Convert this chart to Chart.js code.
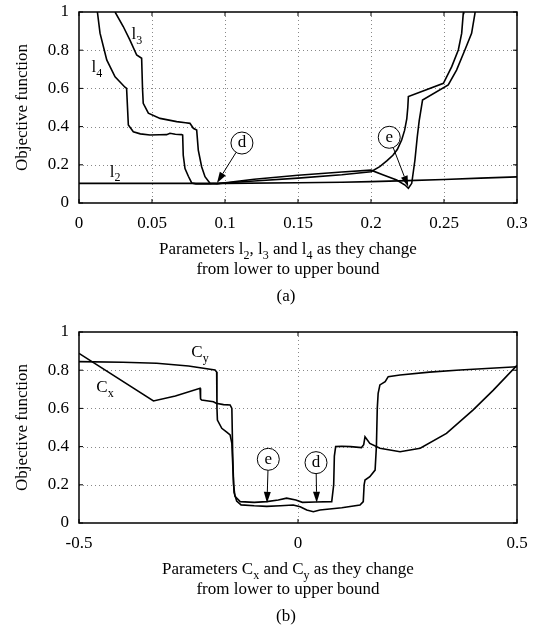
<!DOCTYPE html>
<html lang="en">
<head>
<meta charset="UTF-8">
<title>Objective function vs parameters</title>
<style>
    body, html {
        margin: 0;
        padding: 0;
        background: #fff;
    }
    canvas { display: block; }
</style>
</head>
<body>
<canvas id="chartA" width="538" height="320"></canvas>
<canvas id="chartB" width="538" height="320"></canvas>

<script src="https://cdn.jsdelivr.net/npm/chart.js"></script>
<script>
    // ---------- (a) parameters l2, l3, l4 ----------
    const xTicksA = [0, 0.05, 0.1, 0.15, 0.2, 0.25, 0.3];
    const xLabelsA = ['0', '0.05', '0.1', '0.15', '0.2', '0.25', '0.3'];
    const yTicks = [0, 0.2, 0.4, 0.6, 0.8, 1];
    const yLabels = ['0', '0.2', '0.4', '0.6', '0.8', '1'];

    const l2X = [0, 0.1, 0.15, 0.18, 0.2, 0.225, 0.25, 0.275, 0.3];
    const l2Y = [0.103, 0.103, 0.106, 0.109, 0.112, 0.117, 0.123, 0.13, 0.137];

    const l3X = [0.0247, 0.0303, 0.0349, 0.0395, 0.0429, 0.0435, 0.044, 0.0475, 0.0555, 0.0669, 0.073, 0.076,
                 0.0783, 0.0806, 0.0817, 0.084, 0.0863, 0.0897, 0.0945, 0.12, 0.15, 0.18, 0.2,
                 0.2085, 0.2176, 0.2233, 0.2256, 0.2279, 0.2301, 0.2317, 0.233, 0.2353,
                 0.2529, 0.2586, 0.2643, 0.2689, 0.2712, 0.2716];
    const l3Y = [1.0, 0.924, 0.853, 0.775, 0.758, 0.6, 0.522, 0.47, 0.443, 0.426, 0.42, 0.417,
                 0.391, 0.382, 0.277, 0.19, 0.138, 0.103, 0.1, 0.124, 0.145, 0.162, 0.172,
                 0.147, 0.12, 0.094, 0.077, 0.103, 0.225, 0.347, 0.43, 0.539,
                 0.618, 0.696, 0.801, 0.888, 0.993, 1.02];

    const l4X = [0.0126, 0.0144, 0.019, 0.0247, 0.0315, 0.0326, 0.0338, 0.0372, 0.042, 0.0486, 0.055, 0.06,
                 0.0623, 0.066, 0.0703, 0.071, 0.0714, 0.0726, 0.0749, 0.0772, 0.08, 0.09, 0.0945,
                 0.12, 0.15, 0.18, 0.2, 0.206, 0.211, 0.215, 0.218, 0.221, 0.223, 0.2245, 0.2252, 0.2256,
                 0.2496, 0.2553, 0.2598, 0.2621, 0.2632, 0.2635];
    const l4Y = [1.0, 0.889, 0.749, 0.661, 0.606, 0.6, 0.408, 0.373, 0.362, 0.356, 0.357, 0.358,
                 0.365, 0.36, 0.358, 0.356, 0.25, 0.18, 0.14, 0.105, 0.1, 0.1, 0.102,
                 0.115, 0.13, 0.148, 0.164, 0.19, 0.222, 0.25, 0.28, 0.33, 0.38, 0.44, 0.5, 0.557,
                 0.627, 0.714, 0.801, 0.888, 0.993, 1.02];

    // ---------- (b) parameters Cx, Cy ----------
    const xTicksB = [-0.5, 0, 0.5];
    const xLabelsB = ['-0.5', '0', '0.5'];

    const cxX = [-0.5, -0.33, -0.28, -0.2237, -0.2225, -0.22, -0.193, -0.187, -0.17, -0.155, -0.151, -0.149,
                 -0.147, -0.144, -0.132, -0.1, -0.0715, -0.045, -0.026, -0.005, 0.01, 0.04, 0.077,
                 0.0815, 0.083, 0.086, 0.1, 0.12, 0.145, 0.15, 0.153, 0.164, 0.187, 0.233, 0.279,
                 0.339, 0.4, 0.446, 0.5];
    const cxY = [0.888, 0.639, 0.665, 0.705, 0.65, 0.644, 0.635, 0.627, 0.62, 0.618, 0.6, 0.35,
                 0.2, 0.14, 0.112, 0.108, 0.112, 0.12, 0.13, 0.12, 0.108, 0.11, 0.112,
                 0.2, 0.35, 0.4, 0.402, 0.4, 0.395, 0.41, 0.452, 0.417, 0.391, 0.373, 0.391,
                 0.469, 0.592, 0.696, 0.825];

    const cyX = [-0.5, -0.4, -0.3226, -0.25, -0.1895, -0.1857, -0.185, -0.184, -0.174, -0.162, -0.155, -0.151,
                 -0.148, -0.146, -0.14, -0.13, -0.1, -0.0715, -0.04, -0.011, 0.005, 0.02, 0.035, 0.05,
                 0.1, 0.1416, 0.149, 0.151, 0.153, 0.164, 0.176, 0.179, 0.181, 0.183, 0.187, 0.199,
                 0.206, 0.233, 0.3, 0.37, 0.5];
    const cyY = [0.845, 0.842, 0.836, 0.822, 0.801, 0.79, 0.6, 0.539, 0.496, 0.475, 0.461, 0.417,
                 0.25, 0.16, 0.115, 0.095, 0.09, 0.087, 0.09, 0.094, 0.085, 0.068, 0.059, 0.068,
                 0.08, 0.094, 0.112, 0.2, 0.225, 0.242, 0.277, 0.4, 0.6, 0.679, 0.723, 0.74,
                 0.766, 0.775, 0.79, 0.801, 0.818];

    const serif = '"Liberation Serif", "DejaVu Serif", serif';

    function toPoints(xs, ys) {
        return xs.map((x, i) => ({ x: x, y: ys[i] }));
    }

    // draws text made of normal and subscript pieces, centred on x
    function drawRich(ctx, parts, x, y) {
        const big = '17px ' + serif, small = '12px ' + serif;
        let w = 0;
        parts.forEach(p => { ctx.font = p[1] ? small : big; w += ctx.measureText(p[0]).width; });
        let cx = x - w / 2;
        ctx.textAlign = 'left';
        ctx.textBaseline = 'middle';
        ctx.fillStyle = '#000';
        parts.forEach(p => {
            ctx.font = p[1] ? small : big;
            ctx.fillText(p[0], cx, p[1] ? y + 6 : y);
            cx += ctx.measureText(p[0]).width;
        });
    }

    function arrow(ctx, x1, y1, x2, y2) {
        const ang = Math.atan2(y2 - y1, x2 - x1), len = 11, half = 3.5;
        const bx = x2 - len * Math.cos(ang), by = y2 - len * Math.sin(ang);
        ctx.beginPath();
        ctx.moveTo(x1, y1);
        ctx.lineTo(bx, by);
        ctx.lineWidth = 1;
        ctx.stroke();
        ctx.beginPath();
        ctx.moveTo(x2, y2);
        ctx.lineTo(bx + half * Math.sin(ang), by - half * Math.cos(ang));
        ctx.lineTo(bx - half * Math.sin(ang), by + half * Math.cos(ang));
        ctx.closePath();
        ctx.fill();
    }

    // frame, dotted grid, inward ticks, labels and annotations
    const decorPlugin = {
        id: 'decor',
        beforeDatasetsDraw(chart, args, opts) {
            const ctx = chart.ctx, a = chart.chartArea;
            const xs = chart.scales.x, ys = chart.scales.y;
            ctx.save();
            ctx.strokeStyle = '#888';
            ctx.lineWidth = 1;
            ctx.setLineDash([1, 3]);
            opts.xTicks.slice(1, -1).forEach(v => {
                const px = Math.round(xs.getPixelForValue(v)) + 0.5;
                ctx.beginPath(); ctx.moveTo(px, a.top); ctx.lineTo(px, a.bottom); ctx.stroke();
            });
            yTicks.slice(1, -1).forEach(v => {
                const py = Math.round(ys.getPixelForValue(v)) + 0.5;
                ctx.beginPath(); ctx.moveTo(a.left, py); ctx.lineTo(a.right, py); ctx.stroke();
            });
            ctx.restore();
        },
        afterDatasetsDraw(chart, args, opts) {
            const ctx = chart.ctx, a = chart.chartArea;
            const xs = chart.scales.x, ys = chart.scales.y;
            ctx.save();
            ctx.strokeStyle = '#000';
            ctx.fillStyle = '#000';
            ctx.lineWidth = 1.5;
            ctx.strokeRect(a.left, a.top, a.right - a.left, a.bottom - a.top);
            ctx.lineWidth = 1;
            opts.xTicks.forEach(v => {
                const px = xs.getPixelForValue(v);
                ctx.beginPath();
                ctx.moveTo(px, a.bottom); ctx.lineTo(px, a.bottom - 4);
                ctx.moveTo(px, a.top); ctx.lineTo(px, a.top + 4);
                ctx.stroke();
            });
            yTicks.forEach(v => {
                const py = ys.getPixelForValue(v);
                ctx.beginPath();
                ctx.moveTo(a.left, py); ctx.lineTo(a.left + 4, py);
                ctx.moveTo(a.right, py); ctx.lineTo(a.right - 4, py);
                ctx.stroke();
            });

            // circled letters with arrows
            opts.marks.forEach(m => {
                const cx = xs.getPixelForValue(m.cx), cy = ys.getPixelForValue(m.cy);
                const tx = xs.getPixelForValue(m.tx), ty = ys.getPixelForValue(m.ty);
                const r = 11, ang = Math.atan2(ty - cy, tx - cx);
                ctx.beginPath();
                ctx.arc(cx, cy, r, 0, Math.PI * 2);
                ctx.fillStyle = '#fff';
                ctx.fill();
                ctx.lineWidth = 1;
                ctx.stroke();
                ctx.fillStyle = '#000';
                ctx.font = '17px ' + serif;
                ctx.textAlign = 'center';
                ctx.textBaseline = 'middle';
                ctx.fillText(m.text, cx, cy);
                arrow(ctx, cx + r * Math.cos(ang), cy + r * Math.sin(ang), tx, ty);
            });

            // curve names
            opts.names.forEach(n => {
                drawRich(ctx, n.parts, xs.getPixelForValue(n.x), ys.getPixelForValue(n.y));
            });

            // axis titles and caption
            const mid = 288;
            drawRich(ctx, opts.title1, mid, 250);
            drawRich(ctx, [['from lower to upper bound', 0]], mid, 270);
            drawRich(ctx, [[opts.caption, 0]], mid - 2, 297);
            ctx.translate(23, (a.top + a.bottom) / 2);
            ctx.rotate(-Math.PI / 2);
            drawRich(ctx, [['Objective function', 0]], 0, 0);
            ctx.restore();
        }
    };

    function makeChart(id, series, xTicks, xLabels, decor) {
        return new Chart(document.getElementById(id), {
            type: 'scatter',
            data: {
                datasets: series.map(s => ({
                    data: s,
                    showLine: true,
                    borderColor: '#000',
                    borderWidth: 1.6,
                    pointRadius: 0,
                    tension: 0
                }))
            },
            options: {
                responsive: false,
                animation: false,
                layout: { padding: { left: 0, right: 21, top: 12, bottom: 0 } },
                plugins: {
                    legend: { display: false },
                    tooltip: { enabled: false },
                    decor: decor
                },
                scales: {
                    x: {
                        type: 'linear',
                        min: xTicks[0],
                        max: xTicks[xTicks.length - 1],
                        afterFit: s => { s.height = 117; s.paddingLeft = 0; s.paddingRight = 0; },
                        afterBuildTicks: s => { s.ticks = xTicks.map(v => ({ value: v })); },
                        grid: { display: false, drawTicks: false },
                        border: { display: false },
                        ticks: {
                            autoSkip: false,
                            maxRotation: 0,
                            padding: 10,
                            color: '#000',
                            font: { family: serif, size: 17 },
                            callback: (v, i) => xLabels[i]
                        }
                    },
                    y: {
                        min: 0,
                        max: 1,
                        afterFit: s => { s.width = 79; s.paddingTop = 0; s.paddingBottom = 0; },
                        afterBuildTicks: s => { s.ticks = yTicks.map(v => ({ value: v })); },
                        grid: { display: false, drawTicks: false },
                        border: { display: false },
                        ticks: {
                            padding: 10,
                            color: '#000',
                            font: { family: serif, size: 17 },
                            callback: (v, i) => yLabels[i]
                        }
                    }
                }
            },
            plugins: [decorPlugin]
        });
    }

    makeChart('chartA',
        [toPoints(l2X, l2Y), toPoints(l3X, l3Y), toPoints(l4X, l4Y)],
        xTicksA, xLabelsA,
        {
            xTicks: xTicksA,
            caption: '(a)',
            title1: [['Parameters l', 0], ['2', 1], [', l', 0], ['3', 1], [' and l', 0], ['4', 1], [' as they change', 0]],
            names: [
                { x: 0.0397, y: 0.88, parts: [['l', 0], ['3', 1]] },
                { x: 0.0123, y: 0.707, parts: [['l', 0], ['4', 1]] },
                { x: 0.0247, y: 0.162, parts: [['l', 0], ['2', 1]] }
            ],
            marks: [
                { text: 'd', cx: 0.1116, cy: 0.314, tx: 0.0945, ty: 0.105 },
                { text: 'e', cx: 0.2125, cy: 0.344, tx: 0.2255, ty: 0.085 }
            ]
        });

    makeChart('chartB',
        [toPoints(cxX, cxY), toPoints(cyX, cyY)],
        xTicksB, xLabelsB,
        {
            xTicks: xTicksB,
            caption: '(b)',
            title1: [['Parameters C', 0], ['x', 1], [' and C', 0], ['y', 1], [' as they change', 0]],
            names: [
                { x: -0.2237, y: 0.89, parts: [['C', 0], ['y', 1]] },
                { x: -0.4406, y: 0.707, parts: [['C', 0], ['x', 1]] }
            ],
            marks: [
                { text: 'e', cx: -0.0678, cy: 0.3335, tx: -0.0708, ty: 0.105 },
                { text: 'd', cx: 0.0411, cy: 0.316, tx: 0.0427, ty: 0.106 }
            ]
        });
</script>
</body>
</html>
